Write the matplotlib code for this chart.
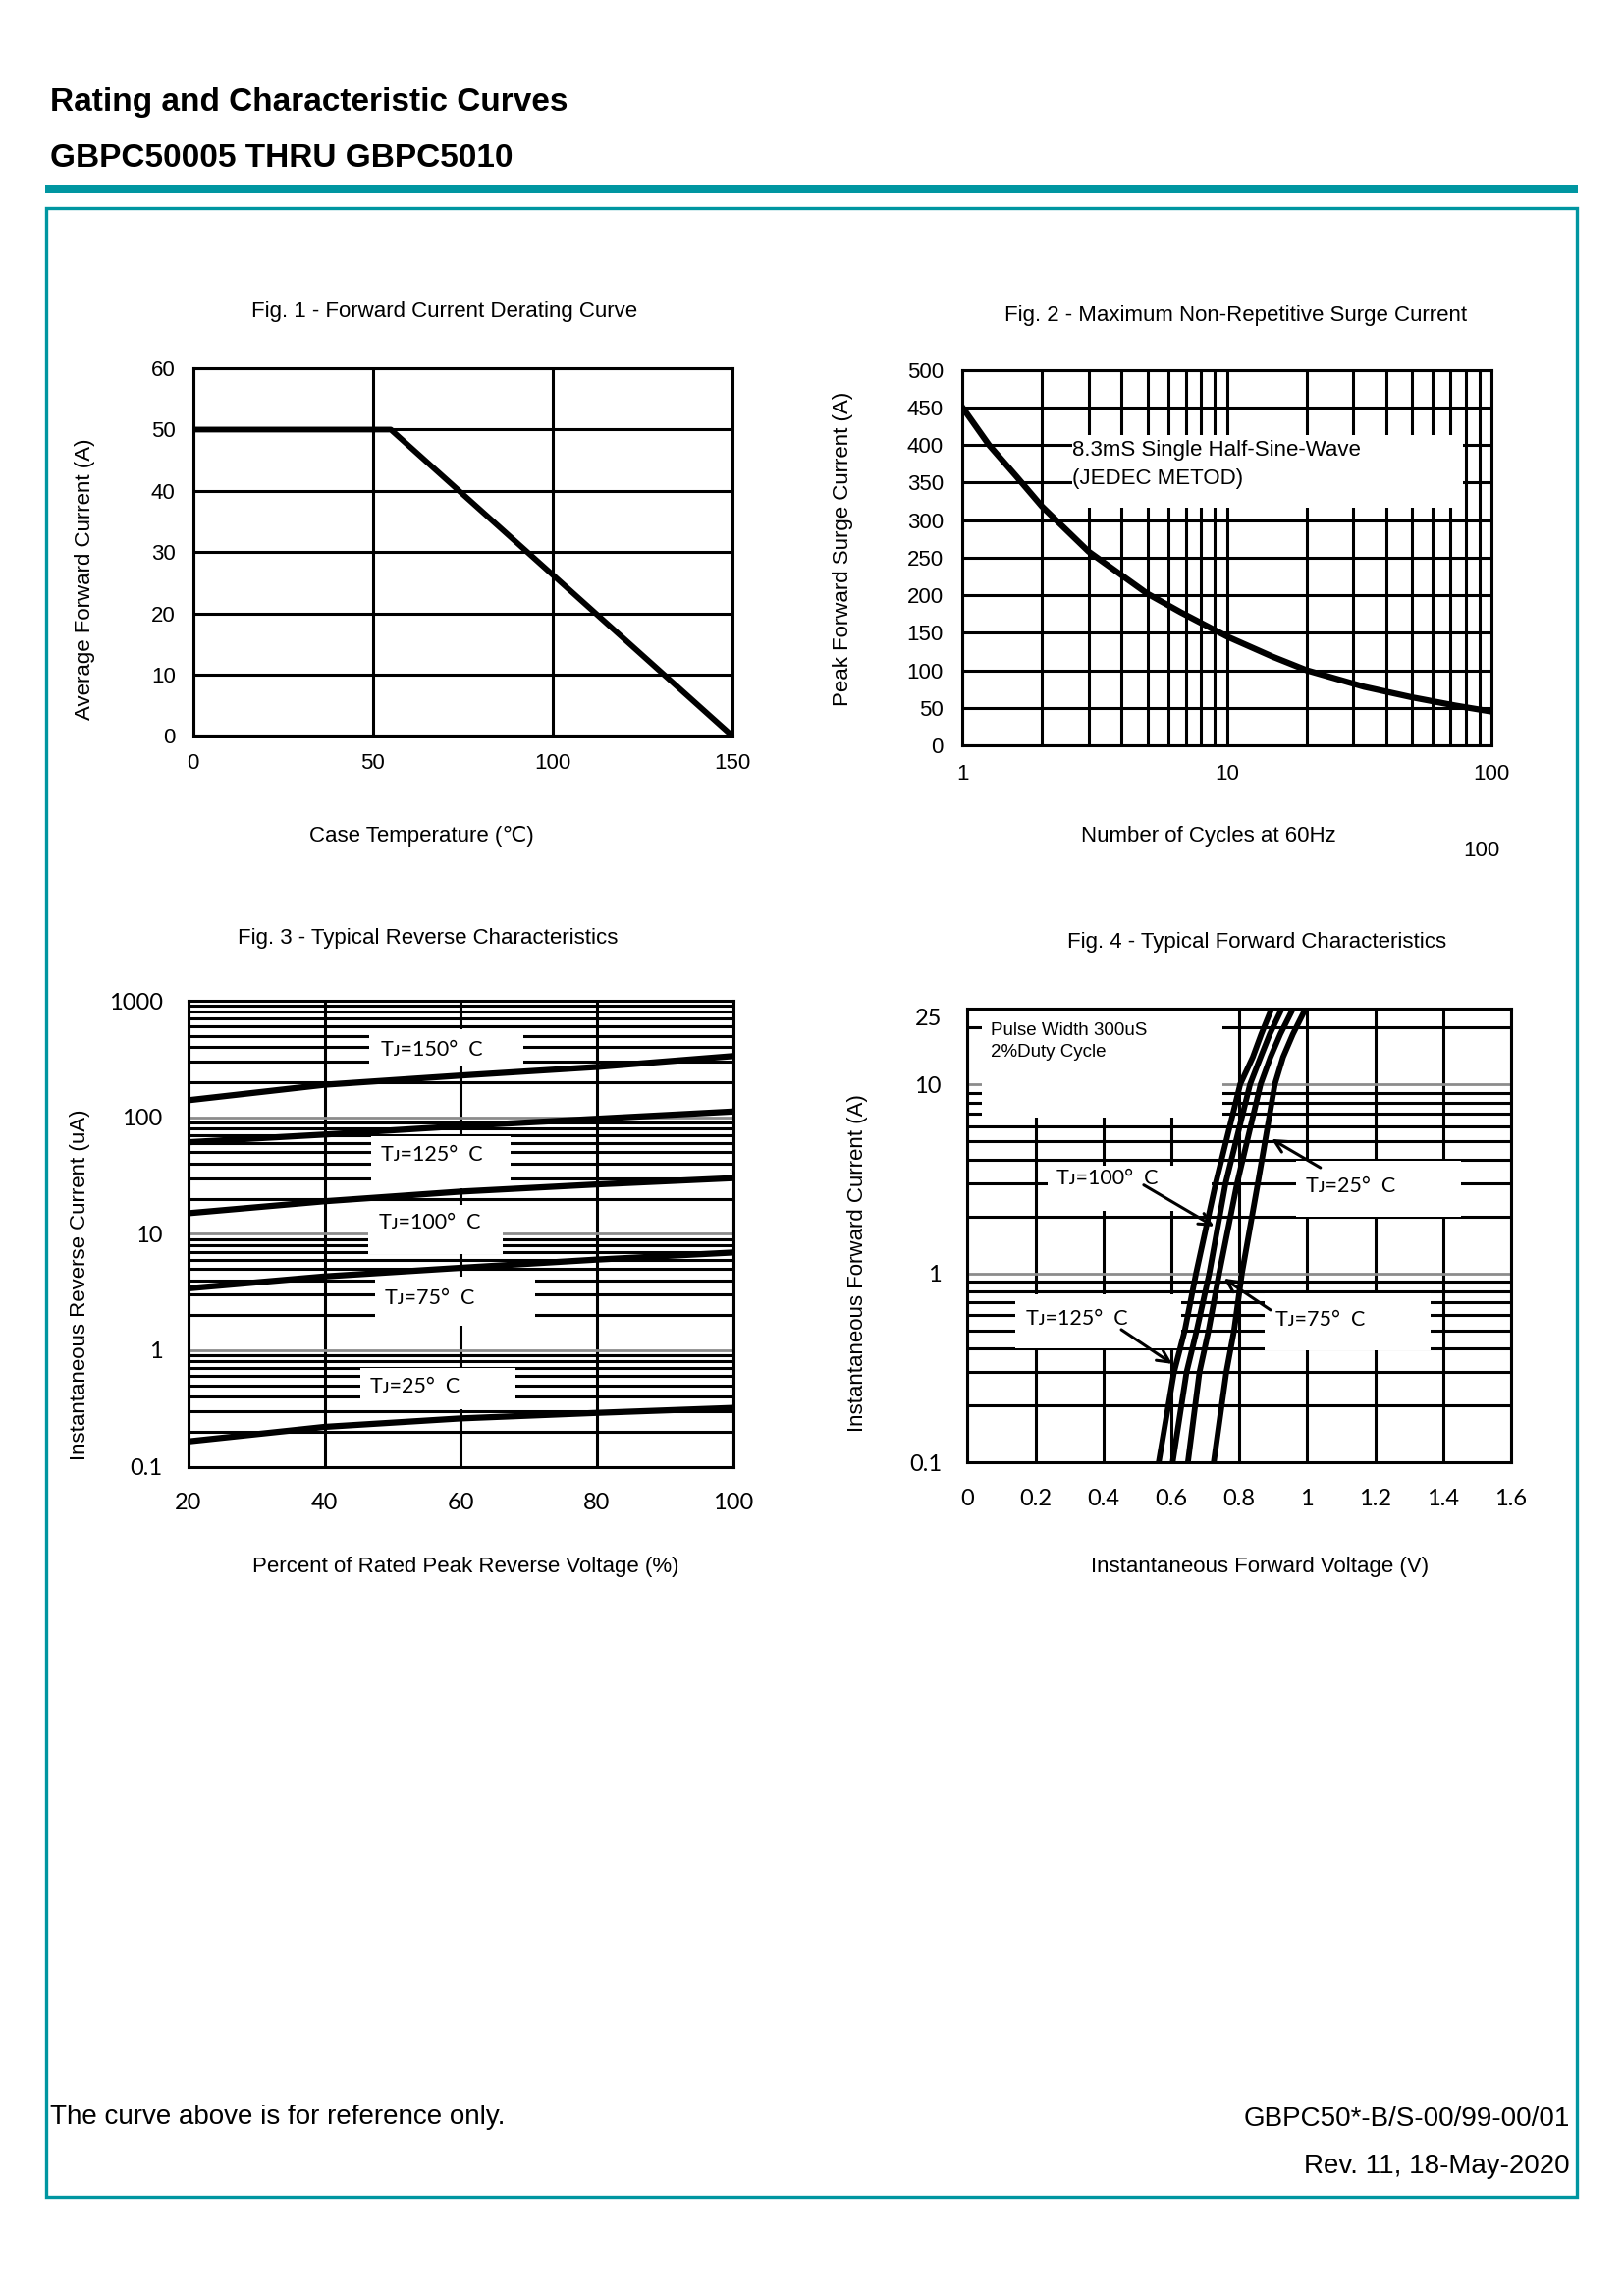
import matplotlib
matplotlib.use("Agg")
import matplotlib.pyplot as plt
from matplotlib.patches import Rectangle
from matplotlib.ticker import NullFormatter
from matplotlib.transforms import ScaledTranslation

plt.rcParams['font.family'] = ['Liberation Sans', 'DejaVu Sans']

W, H = 1654, 2338
TEAL = '#0096a1'
GRAY = '#8c8c8c'
CAL = ['Lato', 'DejaVu Sans']

# ---- data ----
# fig 1: forward current derating
case_temp = [0, 55, 150]
avg_current = [50, 50, 0]
temp_ticks = [0, 50, 100, 150]
amp_ticks = [0, 10, 20, 30, 40, 50, 60]

# fig 2: surge current
cycles = [1, 1.26, 1.6, 2, 3, 5, 6.7, 10, 14.9, 20, 33, 50, 73, 100]
surge_current = [450, 400, 358, 318, 258, 202, 177, 145, 118, 100, 78, 64, 53, 45]
cycle_ticks = [1, 10, 100]
cycle_minor = [2, 3, 4, 5, 6, 7, 8, 9, 20, 30, 40, 50, 60, 70, 80, 90]
surge_ticks = [0, 50, 100, 150, 200, 250, 300, 350, 400, 450, 500]

# fig 3: reverse characteristics
pct_voltage = [20, 40, 60, 80, 100]
ir_150 = [140, 190, 228, 270, 335]
ir_125 = [61, 71, 84, 97, 112]
ir_100 = [15, 19, 23, 26.5, 30]
ir_75 = [3.4, 4.3, 5.1, 6.0, 6.9]
ir_25 = [0.165, 0.22, 0.26, 0.29, 0.32]
pct_ticks = [20, 40, 60, 80, 100]
ir_ticks = [0.1, 1, 10, 100, 1000]
ir_minor = [m * d for d in (0.1, 1, 10, 100) for m in range(2, 10)]

# fig 4: forward characteristics
if_current = [0.1, 0.3, 0.5, 1, 3, 10, 13.9, 18.4, 25]
vf_125 = [0.563, 0.608, 0.640, 0.673, 0.731, 0.803, 0.840, 0.865, 0.895]
vf_100 = [0.604, 0.645, 0.675, 0.712, 0.760, 0.832, 0.863, 0.890, 0.925]
vf_75 = [0.649, 0.683, 0.710, 0.741, 0.794, 0.863, 0.892, 0.921, 0.958]
vf_25 = [0.725, 0.762, 0.785, 0.808, 0.855, 0.905, 0.929, 0.958, 0.995]
vf_ticks = [0, 0.2, 0.4, 0.6, 0.8, 1.0, 1.2, 1.4, 1.6]
vf_labels = ['0', '0.2', '0.4', '0.6', '0.8', '1', '1.2', '1.4', '1.6']
if_ticks = [0.1, 1, 10, 25]
if_minor = [0.2, 0.3, 0.4, 0.5, 0.6, 0.7, 0.8, 0.9, 2, 3, 4, 5, 6, 7, 8, 9, 20]

fig = plt.figure(figsize=(W / 100, H / 100), dpi=100)


def fxy(x, y):
    return x / W, 1 - y / H


def add_axes(x0, y0, x1, y1):
    return fig.add_axes([x0 / W, 1 - y1 / H, (x1 - x0) / W, (y1 - y0) / H])


def style(ax, pad):
    for s in ax.spines.values():
        s.set_linewidth(2.2)
    ax.tick_params(which='both', length=0, pad=pad)


def blank(ax, x0, x1, y0, y1):
    ax.add_patch(Rectangle((x0, y0), x1 - x0, y1 - y0, fc='white', ec='none', zorder=1.8))


# page frame
fig.patches.append(Rectangle(fxy(45.6, 197), (1607 - 45.6) / W, 9 / H,
                             transform=fig.transFigure, fc=TEAL, ec='none'))
fig.patches.append(Rectangle(fxy(46.5, 2237), (1605.5 - 46.5) / W, (2237 - 211.5) / H,
                             transform=fig.transFigure, fill=False, ec=TEAL, lw=2.4))
fig.text(*fxy(51, 113), 'Rating and Characteristic Curves', fontsize=24,
         fontweight='bold', va='baseline')
fig.text(*fxy(51, 170), 'GBPC50005 THRU GBPC5010', fontsize=24,
         fontweight='bold', va='baseline')
fig.text(*fxy(51, 2163), 'The curve above is for reference only.', fontsize=20, va='baseline')
fig.text(*fxy(1599, 2165), 'GBPC50*-B/S-00/99-00/01', fontsize=20, va='baseline', ha='right')
fig.text(*fxy(1599, 2213), 'Rev. 11, 18-May-2020', fontsize=20, va='baseline', ha='right')

# ---- Fig. 1 ----
ax1 = add_axes(196.7, 375.1, 745.7, 749.3)
ax1.plot(case_temp, avg_current, color='k', lw=4.2, zorder=3)
ax1.set_xlim(0, 150)
ax1.set_ylim(0, 60)
ax1.set_xticks(temp_ticks)
ax1.set_yticks(amp_ticks)
ax1.grid(color='k', lw=2.2)
style(ax1, 13)
ax1.tick_params(labelsize=16)
fig.text(*fxy(453, 317), 'Fig. 1 - Forward Current Derating Curve', fontsize=16, ha='center', va='center')
fig.text(*fxy(87, 590), 'Average Forward Current (A)', fontsize=16, rotation=90, ha='center', va='center')
fig.text(*fxy(429, 851), 'Case Temperature (℃)', fontsize=16, ha='center', va='center')

# ---- Fig. 2 ----
ax2 = add_axes(980.2, 376.6, 1519, 759)
ax2.set_xscale('log')
ax2.plot(cycles, surge_current, color='k', lw=4.5, zorder=3)
ax2.set_xlim(1, 100)
ax2.set_ylim(0, 500)
ax2.set_xticks(cycle_ticks, labels=[str(c) for c in cycle_ticks])
ax2.set_xticks(cycle_minor, minor=True)
ax2.xaxis.set_minor_formatter(NullFormatter())
ax2.set_yticks(surge_ticks)
ax2.grid(which='both', color='k', lw=2.2)
style(ax2, 14)
ax2.tick_params(labelsize=16)
blank(ax2, 2.59, 78, 316.8, 412.8)
ax2.text(2.61, 392.9, '8.3mS Single Half-Sine-Wave', fontsize=16, va='center', ha='left')
ax2.text(2.61, 355.6, '(JEDEC METOD)', fontsize=16, va='center', ha='left')
fig.text(*fxy(1259, 322), 'Fig. 2 - Maximum Non-Repetitive Surge Current', fontsize=16, ha='center', va='center')
fig.text(*fxy(859, 559), 'Peak Forward Surge Current (A)', fontsize=16, rotation=90, ha='center', va='center')
fig.text(*fxy(1231, 852), 'Number of Cycles at 60Hz', fontsize=16, ha='center', va='center')
fig.text(*fxy(1509, 867), '100', fontsize=16, ha='center', va='center')

# ---- Fig. 3 ----
ax3 = add_axes(192, 1019, 746.6, 1493.6)
ax3.set_yscale('log')
for ir in (ir_150, ir_125, ir_100, ir_75, ir_25):
    ax3.plot(pct_voltage, ir, color='k', lw=4.5, zorder=3)
ax3.set_xlim(20, 100)
ax3.set_ylim(0.1, 1000)
ax3.set_xticks(pct_ticks)
ax3.set_yticks(ir_ticks, labels=['0.1', '1', '10', '100', '1000'])
ax3.set_yticks(ir_minor, minor=True)
ax3.yaxis.set_minor_formatter(NullFormatter())
ax3.grid(which='major', axis='x', color='k', lw=2.2)
ax3.grid(which='minor', axis='y', color='k', lw=2.2)
ax3.grid(which='major', axis='y', color=GRAY, lw=2.0)
style(ax3, 19)
for lab in ax3.get_xticklabels() + ax3.get_yticklabels():
    lab.set_family(CAL)
    lab.set_fontsize(17)
fig3_labels = [
    ('Tᴊ=150°  C', 55.7, 379, (46.6, 69.2, 278, 566)),
    ('Tᴊ=125°  C', 55.7, 47.5, (46.8, 67.3, 24.5, 69)),
    ('Tᴊ=100°  C', 55.4, 12.45, (46.4, 66.1, 6.7, 17.8)),
    ('Tᴊ=75°  C', 55.4, 2.79, (47.4, 70.9, 1.62, 4.29)),
    ('Tᴊ=25°  C', 53.3, 0.488, (45.2, 68.0, 0.312, 0.70)),
]
for txt, x, y, box in fig3_labels:
    blank(ax3, *box)
    ax3.text(x, y, txt, family=CAL, fontsize=15.5, ha='center', va='center', zorder=4)
fig.text(*fxy(436, 955), 'Fig. 3 - Typical Reverse Characteristics', fontsize=16, ha='center', va='center')
fig.text(*fxy(82, 1308), 'Instantaneous Reverse Current (uA)', fontsize=16, rotation=90, ha='center', va='center')
fig.text(*fxy(474, 1595), 'Percent of Rated Peak Reverse Voltage (%)', fontsize=16, ha='center', va='center')

# ---- Fig. 4 ----
ax4 = add_axes(985.3, 1027.4, 1538.9, 1489.2)
ax4.set_yscale('log')
for vf in (vf_125, vf_100, vf_75, vf_25):
    ax4.plot(vf, if_current, color='k', lw=4.2, zorder=3, solid_joinstyle='round')
ax4.set_xlim(0, 1.6)
ax4.set_ylim(0.1, 25)
ax4.set_xticks(vf_ticks, labels=vf_labels)
ax4.set_yticks(if_ticks, labels=['0.1', '1', '10', '25'])
ax4.set_yticks(if_minor, minor=True)
ax4.yaxis.set_minor_formatter(NullFormatter())
ax4.grid(which='major', axis='x', color='k', lw=2.2)
ax4.grid(which='minor', axis='y', color='k', lw=2.2)
ax4.grid(which='major', axis='y', color=GRAY, lw=2.0)
style(ax4, 19)
for lab in ax4.get_xticklabels() + ax4.get_yticklabels():
    lab.set_family(CAL)
    lab.set_fontsize(17)
top = ax4.get_yticklabels()[-1]
top.set_transform(top.get_transform() + ScaledTranslation(0, -0.08, fig.dpi_scale_trans))

blank(ax4, 0.0425, 0.75, 6.67, 25)
ax4.text(0.068, 19.2, 'Pulse Width 300uS', fontsize=13.5, va='center', ha='left', zorder=4)
ax4.text(0.068, 14.7, '2%Duty Cycle', fontsize=13.5, va='center', ha='left', zorder=4)
fig4_labels = [
    ('Tᴊ=100°  C', 0.412, 3.18, (0.236, 0.720, 2.14, 3.72), (0.519, 2.93), (0.726, 1.77)),
    ('Tᴊ=25°  C', 1.129, 2.89, (0.967, 1.454, 2.0, 3.94), (1.039, 3.62), (0.895, 5.13)),
    ('Tᴊ=125°  C', 0.321, 0.574, (0.141, 0.629, 0.40, 0.77), (0.453, 0.504), (0.603, 0.332)),
    ('Tᴊ=75°  C', 1.040, 0.569, (0.875, 1.363, 0.39, 0.78), (0.892, 0.64), (0.755, 0.939)),
]
for txt, x, y, box, start, end in fig4_labels:
    blank(ax4, *box)
    ax4.text(x, y, txt, family=CAL, fontsize=15.5, ha='center', va='center', zorder=4)
    ax4.annotate('', xy=end, xytext=start, zorder=4,
                 arrowprops=dict(arrowstyle='->', color='k', lw=2.2, mutation_scale=22,
                                 shrinkA=0, shrinkB=0))
fig.text(*fxy(1280, 959), 'Fig. 4 - Typical Forward Characteristics', fontsize=16, ha='center', va='center')
fig.text(*fxy(873, 1286), 'Instantaneous Forward Current (A)', fontsize=16, rotation=90, ha='center', va='center')
fig.text(*fxy(1283, 1596), 'Instantaneous Forward Voltage (V)', fontsize=16, ha='center', va='center')

fig.savefig('out.png', dpi=100)
